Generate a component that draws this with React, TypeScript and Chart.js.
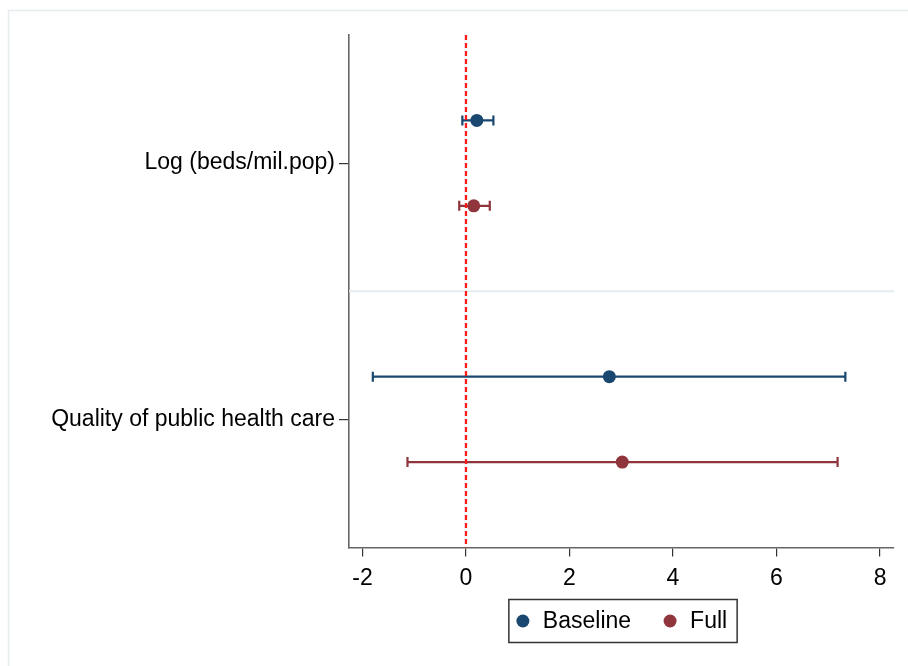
import React, { useEffect, useRef } from "react";
import { Chart, registerables } from "chart.js";

Chart.register(...registerables);

const categories = ["Log (beds/mil.pop)", "Quality of public health care"];
const seriesNames = ["Baseline", "Full"];
const seriesColors = ["#1a476f", "#90353b"];
const baselineCoef = [0.21, 2.77];
const baselineLo = [-0.07, -1.8];
const baselineHi = [0.53, 7.33];
const fullCoef = [0.15, 3.02];
const fullLo = [-0.13, -1.13];
const fullHi = [0.46, 7.18];
const xTicks = [-2, 0, 2, 4, 6, 8];

const coefs = [baselineCoef, fullCoef];
const los = [baselineLo, fullLo];
const his = [baselineHi, fullHi];

const FONT = { family: "'Liberation Sans', Arial, sans-serif", size: 23 };
const rowsPerCat = seriesNames.length + 1;
const rowY = (cat: number, s: number) => cat * rowsPerCat + s + 1;
const catY = (cat: number) => cat * rowsPerCat + (seriesNames.length + 1) / 2;

export default function App() {
  const ref = useRef<HTMLCanvasElement | null>(null);
  useEffect(() => {
    if (!ref.current) return;

    const bgPlugin = {
      id: "bg",
      beforeDraw(chart: any) {
        const ctx = chart.ctx;
        ctx.save();
        ctx.fillStyle = "#ffffff";
        ctx.fillRect(0, 0, chart.width, chart.height);
        ctx.strokeStyle = "#e6edf0";
        ctx.lineWidth = 1.5;
        ctx.beginPath();
        ctx.moveTo(8.5, chart.height);
        ctx.lineTo(8.5, 10.5);
        ctx.lineTo(chart.width, 10.5);
        ctx.stroke();
        ctx.restore();
      },
    };

    const errPlugin = {
      id: "err",
      beforeDatasetsDraw(chart: any) {
        const ctx = chart.ctx;
        const xs = chart.scales.x;
        const ys = chart.scales.y;
        const ca = chart.chartArea;
        ctx.save();
        ctx.strokeStyle = "#e3ecef";
        ctx.lineWidth = 2;
        for (let c = 1; c < categories.length; c++) {
          const y = ys.getPixelForValue(c * rowsPerCat);
          ctx.beginPath();
          ctx.moveTo(ca.left, y);
          ctx.lineTo(ca.right, y);
          ctx.stroke();
        }
        ctx.lineWidth = 2.2;
        for (let s = 0; s < seriesNames.length; s++) {
          ctx.strokeStyle = seriesColors[s];
          for (let c = 0; c < categories.length; c++) {
            const y = ys.getPixelForValue(rowY(c, s));
            const x1 = xs.getPixelForValue(los[s][c]);
            const x2 = xs.getPixelForValue(his[s][c]);
            ctx.beginPath();
            ctx.moveTo(x1, y);
            ctx.lineTo(x2, y);
            ctx.moveTo(x1, y - 5);
            ctx.lineTo(x1, y + 5);
            ctx.moveTo(x2, y - 5);
            ctx.lineTo(x2, y + 5);
            ctx.stroke();
          }
        }
        ctx.restore();
      },
      afterDatasetsDraw(chart: any) {
        const ctx = chart.ctx;
        const xs = chart.scales.x;
        const ca = chart.chartArea;
        const x0 = xs.getPixelForValue(0);
        ctx.save();
        ctx.strokeStyle = "#ff1a1a";
        ctx.lineWidth = 2.3;
        ctx.setLineDash([5, 3]);
        ctx.beginPath();
        ctx.moveTo(x0, ca.top);
        ctx.lineTo(x0, ca.bottom);
        ctx.stroke();
        ctx.restore();
      },
      afterDraw(chart: any) {
        const ctx = chart.ctx;
        const ca = chart.chartArea;
        ctx.save();
        ctx.font = `${FONT.size}px ${FONT.family}`;
        const widths = seriesNames.map((n) => ctx.measureText(n).width);
        const padL = 14, mk2txt = 20, gap = 39, padR = 10;
        let total = padL;
        widths.forEach((w, i) => {
          total += mk2txt + w + (i < widths.length - 1 ? gap : padR);
        });
        const cx = (ca.left + ca.right) / 2 + 1.5;
        const left = cx - total / 2;
        const top = ca.bottom + 52;
        const h = 43;
        ctx.strokeStyle = "#333333";
        ctx.lineWidth = 1.5;
        ctx.strokeRect(left, top, total, h);
        let x = left + padL;
        const cy = top + h / 2;
        ctx.textBaseline = "middle";
        ctx.textAlign = "left";
        seriesNames.forEach((n, i) => {
          ctx.fillStyle = seriesColors[i];
          ctx.beginPath();
          ctx.arc(x, cy, 6.5, 0, Math.PI * 2);
          ctx.fill();
          ctx.fillStyle = "#000000";
          ctx.fillText(n, x + mk2txt, cy + 1);
          x += mk2txt + widths[i] + gap;
        });
        ctx.restore();
      },
    };

    const chart = new Chart(ref.current, {
      type: "scatter",
      data: {
        datasets: seriesNames.map((name, s) => ({
          label: name,
          data: categories.map((_, c) => ({ x: coefs[s][c], y: rowY(c, s) })),
          backgroundColor: seriesColors[s],
          borderWidth: 0,
          pointRadius: 6.5,
          pointHoverRadius: 6.5,
        })),
      },
      options: {
        animation: false,
        responsive: false,
        devicePixelRatio: 1,
        layout: { padding: { left: 0, top: 35, right: 14, bottom: 58.5 } },
        plugins: { legend: { display: false }, tooltip: { enabled: false } },
        scales: {
          x: {
            type: "linear",
            min: -2.26,
            max: 8.27,
            afterBuildTicks: (s: any) => {
              s.ticks = xTicks.map((v) => ({ value: v }));
            },
            afterFit: (s: any) => {
              s.height = 60;
            },
            grid: { drawOnChartArea: false, drawTicks: true, tickLength: 9, color: "#333333", lineWidth: 1.2 },
            border: { display: true, color: "#666666", width: 1.6 },
            ticks: { font: FONT, color: "#000000", padding: 8, maxRotation: 0, callback: (v: any) => String(v) },
          },
          y: {
            type: "linear",
            min: 0,
            max: categories.length * rowsPerCat,
            reverse: true,
            afterBuildTicks: (s: any) => {
              s.ticks = categories.map((_, c) => ({ value: catY(c) }));
            },
            afterFit: (s: any) => {
              s.width = 349;
            },
            grid: { drawOnChartArea: false, drawTicks: true, tickLength: 10, color: "#333333", lineWidth: 1.2 },
            border: { display: true, color: "#666666", width: 1.6 },
            ticks: {
              font: FONT,
              color: "#000000",
              padding: 4,
              callback: (v: any) => {
                const idx = categories.findIndex((_, c) => Math.abs(catY(c) - v) < 1e-6);
                return idx >= 0 ? categories[idx] : "";
              },
            },
          },
        },
      },
      plugins: [bgPlugin, errPlugin],
    } as any);
    return () => chart.destroy();
  }, []);

  return (
    <canvas
      ref={ref}
      width={908}
      height={666}
      style={{ position: "absolute", left: 0, top: 0, width: 908, height: 666 }}
    />
  );
}
